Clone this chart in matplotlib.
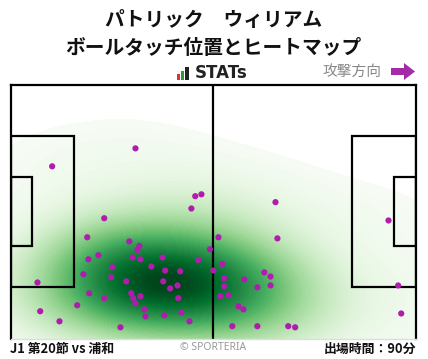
import numpy as np
import matplotlib
matplotlib.use("Agg")
import matplotlib.pyplot as plt
from matplotlib.patches import Rectangle, FancyArrow

plt.rcParams['font.family'] = ['Noto Sans CJK JP', 'DejaVu Sans']

# Text
title_lines = ["パトリック　ウィリアム", "ボールタッチ位置とヒートマップ"]
match_label = "J1 第20節 vs 浦和"
minutes_label = "出場時間：90分"
direction_label = "攻撃方向"
credit_label = "© SPORTERIA"

# Ball touch positions in metres (x: along pitch 0-105, y: from top touchline 0-68)
touch_x = [10.8, 32.4, 47.9, 49.5, 46.9, 68.7, 24.3, 19.9, 30.8, 33.4,
           32.9, 51.7, 20.2, 22.8, 31.6, 33.7, 39.4, 48.7, 26.4, 36.5,
           40.1, 44.0, 52.6, 18.9, 26.1, 7.0, 30.0, 39.6, 43.3, 41.4,
           20.4, 31.3, 33.7, 31.8, 24.3, 43.5, 32.4, 17.3, 34.7, 44.3,
           7.7, 35.0, 39.9, 12.7, 46.4, 28.5, 98.0, 53.9, 69.2, 54.9,
           65.8, 67.4, 55.4, 60.6, 55.4, 64.0, 67.4, 100.5, 54.4, 56.5,
           59.1, 60.4, 101.3, 57.5, 64.0, 72.0, 73.8]
touch_y = [21.9, 17.1, 29.9, 29.4, 33.2, 31.5, 35.8, 40.9, 42.0, 43.2,
           44.3, 44.1, 46.8, 45.7, 46.3, 46.8, 46.3, 47.0, 48.9, 48.7,
           49.8, 50.0, 49.8, 50.8, 51.6, 53.0, 52.7, 52.7, 53.8, 54.6,
           55.9, 55.9, 56.7, 57.2, 57.2, 57.2, 58.6, 59.1, 60.2, 61.0,
           60.7, 62.1, 61.8, 63.4, 63.4, 65.0, 36.4, 40.9, 41.2, 48.1,
           50.3, 51.4, 51.9, 52.2, 54.0, 54.3, 53.8, 53.8, 56.7, 56.4,
           59.4, 60.2, 61.3, 64.7, 64.7, 64.7, 65.0]

fig = plt.figure(figsize=(4.28, 3.59), dpi=100)
ax = fig.add_axes([10.5 / 428, 1 - 338.5 / 359, 405 / 428, 254 / 359])

# Gaussian KDE of the touches (widened Scott bandwidth)
pts = np.vstack([touch_x, touch_y])
n = pts.shape[1]
factor = 1.6 * n ** (-1 / 6)
cov = np.cov(pts) * factor ** 2
inv = np.linalg.inv(cov)
gx, gy = np.meshgrid(np.linspace(0, 105, 220), np.linspace(0, 68, 150))
dens = np.zeros_like(gx)
for px, py in zip(touch_x, touch_y):
    dx = gx - px
    dy = gy - py
    dens += np.exp(-0.5 * (inv[0, 0] * dx * dx + 2 * inv[0, 1] * dx * dy + inv[1, 1] * dy * dy))
dens /= dens.max()
ax.contourf(gx, gy, dens, levels=np.linspace(0.03, 1.0, 80), cmap='Greens', zorder=1)

# Pitch lines
lc = 'black'
lw = 1.6
ax.plot([52.5, 52.5], [0, 68], color=lc, lw=lw, zorder=2)
for x0, w in [(0, 16.5), (105 - 16.5, 16.5)]:
    ax.add_patch(Rectangle((x0, 34 - 20.16), w, 40.32, fill=False, ec=lc, lw=lw, zorder=2))
for x0, w in [(0, 5.5), (105 - 5.5, 5.5)]:
    ax.add_patch(Rectangle((x0, 34 - 9.16), w, 18.32, fill=False, ec=lc, lw=lw, zorder=2))

ax.scatter(touch_x, touch_y, s=20, color='#b01cae', edgecolors='none', zorder=3)

ax.set_xlim(0, 105)
ax.set_ylim(68, 0)
ax.set_xticks([])
ax.set_yticks([])
for side in ['top', 'left', 'right']:
    ax.spines[side].set_color('black')
    ax.spines[side].set_linewidth(1.6)
ax.spines['bottom'].set_color('#dddddd')
ax.spines['bottom'].set_linewidth(1.0)

# Header
fig.text(213.5 / 428, 1 - 20.5 / 359, title_lines[0], ha='center', va='center',
         fontsize=14.2, fontweight='bold', color='#111111')
fig.text(213.5 / 428, 1 - 48 / 359, title_lines[1], ha='center', va='center',
         fontsize=14.2, fontweight='bold', color='#111111')

# STATs logo
for (x0, y0, w, h, c) in [(177, 73.5, 3, 6.5, '#e03030'), (180.5, 71, 3, 9, '#2a9a3a'), (184.5, 66.5, 4.5, 13.5, '#222222')]:
    fig.add_artist(Rectangle((x0 / 100, (359 - y0 - h) / 100), w / 100, h / 100,
                             transform=fig.dpi_scale_trans, color=c, lw=0))
fig.text(195 / 428, 1 - 73.5 / 359, "STATs", ha='left', va='center', fontsize=12,
         fontweight='bold', color='#222222', family='DejaVu Sans')

fig.text(381 / 428, 1 - 72 / 359, direction_label, ha='right', va='center',
         fontsize=10.6, color='#888888')
fig.add_artist(FancyArrow(391 / 100, (359 - 71.5) / 100, 24 / 100, 0, width=7 / 100,
                          head_width=17 / 100, head_length=11 / 100, length_includes_head=True,
                          color='#a52aa8', lw=0, transform=fig.dpi_scale_trans))

# Footer
fig.text(10 / 428, 1 - 349 / 359, match_label, ha='left', va='center',
         fontsize=9.3, fontweight='bold', color='#111111')
fig.text(213.5 / 428, 1 - 348 / 359, credit_label, ha='center', va='center',
         fontsize=7.5, color='#999999', family='Noto Sans')
fig.text(416.5 / 428, 1 - 349 / 359, minutes_label, ha='right', va='center',
         fontsize=9.3, fontweight='bold', color='#111111')

fig.savefig('out.png', dpi=100)
